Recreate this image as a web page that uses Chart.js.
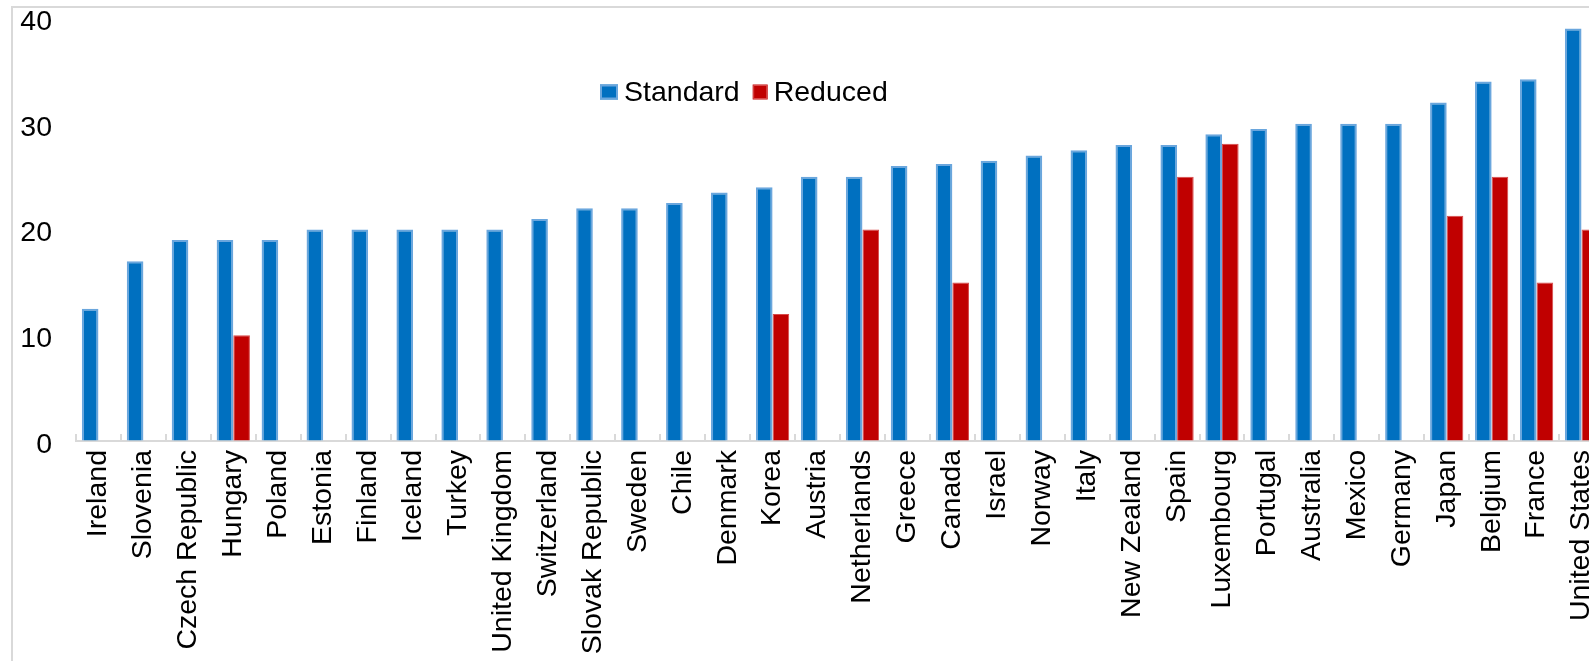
<!DOCTYPE html>
<html>
<head>
<meta charset="utf-8">
<script src="https://cdn.jsdelivr.net/npm/chart.js@4.4.1/dist/chart.umd.min.js"></script>
<style>
  html, body { margin:0; padding:0; overflow:hidden; background:#fff; width:1589px; height:661px; }
  #wrap { position:absolute; left:0; top:0; }
  #frame { position:absolute; left:11px; top:6px; width:2000px; height:1000px; border-left:2px solid #d9d9d9; border-top:2px solid #d9d9d9; pointer-events:none; z-index:2; }
</style>
</head>
<body>
<div id="wrap"><canvas id="taxChart" width="1630" height="680"></canvas></div>
<div id="frame"></div>
<script>
// corporate tax rates, standard vs reduced
const countries = ['Ireland','Slovenia','Czech Republic','Hungary','Poland','Estonia','Finland','Iceland','Turkey','United Kingdom','Switzerland','Slovak Republic','Sweden','Chile','Denmark','Korea','Austria','Netherlands','Greece','Canada','Israel','Norway','Italy','New Zealand','Spain','Luxembourg','Portugal','Australia','Mexico','Germany','Japan','Belgium','France','United States']
const standardRate = [12.5,17,19,19,19,20,20,20,20,20,21,22,22,22.5,23.5,24,25,25,26,26.2,26.5,27,27.5,28,28,29,29.5,30,30,30,32,34,34.2,39]
const reducedRate = [null,null,null,10,null,null,null,null,null,null,null,null,null,null,null,12,null,20,null,15,null,null,null,null,25,28.1,null,null,null,null,21.3,25,15,20]
const yTicks = [0,10,20,30,40]

const FONT = 'Liberation Sans, Arial, sans-serif'
const FSIZE = 28.5

// little tick marks sitting on top of the x axis between categories
const innerTicks = {
  id:'innerTicks',
  afterDraw(chart) {
    const x = chart.scales.x, ctx = chart.ctx
    const step = x.getPixelForValue(1) - x.getPixelForValue(0)
    const base = chart.chartArea.bottom
    ctx.save()
    ctx.strokeStyle = '#d9d9d9'; ctx.lineWidth = 2
    for (let i = 0; i <= countries.length; i++) {
      const px = Math.round(x.getPixelForValue(0) - step/2 + i*step)
      ctx.beginPath(); ctx.moveTo(px, base - 7); ctx.lineTo(px, base); ctx.stroke()
    }
    ctx.restore()
  }
}

// legend drawn inside the plot area
const innerLegend = {
  id:'innerLegend',
  afterDatasetsDraw(chart, args, opts) {
    const ctx = chart.ctx
    let x = opts.x
    const y = opts.y
    ctx.save()
    ctx.font = FSIZE + 'px ' + FONT
    ctx.textBaseline = 'middle'
    chart.data.datasets.forEach(ds => {
      const w = ds.legendBox
      ctx.fillStyle = ds.backgroundColor
      ctx.fillRect(x, y - 7.5, w, 15)
      if (ds.borderWidth) {
        ctx.strokeStyle = ds.borderColor; ctx.lineWidth = ds.borderWidth
        ctx.strokeRect(x + 1, y - 6.5, w - 2, 13)
      }
      x += w + 6
      ctx.fillStyle = '#000'
      ctx.fillText(ds.label, x, y + 1)
      x += ctx.measureText(ds.label).width + 13
    })
    ctx.restore()
  }
}

function initChart() {
  const el = document.getElementById('taxChart')
  if (!el) { console.error('canvas missing'); return }
  new Chart(el, {
    type:'bar',
    data:{
      labels: countries,
      datasets:[
        {label:'Standard', data: standardRate, backgroundColor:'#0070c0', borderColor:'#6aa6dd', borderWidth:2, borderSkipped:'bottom', legendBox:18},
        {label:'Reduced', data: reducedRate, backgroundColor:'#c00000', borderColor:'#d84a4a', borderWidth:1, borderSkipped:'bottom', legendBox:15}
      ]
    },
    options:{
      responsive:false,
      animation:false,
      layout:{padding:{top:18, right:26, bottom:0, left:0}},
      datasets:{bar:{categoryPercentage:0.74, barPercentage:1}},
      plugins:{
        legend:{display:false},
        tooltip:{enabled:false},
        innerLegend:{x:600, y:92}
      },
      scales:{
        x:{
          grid:{display:false},
          border:{display:true, color:'#d9d9d9', width:2},
          ticks:{font:{family:FONT, size:FSIZE}, color:'#000', minRotation:90, maxRotation:90, autoSkip:false, padding:1},
          afterFit(s) { s.height = 239 }
        },
        y:{
          min:0, max:40,
          // invisible tick marks give the gap between labels and plot
          grid:{display:true, drawOnChartArea:false, drawTicks:true, tickLength:24, color:'rgba(0,0,0,0)'},
          border:{display:false},
          afterBuildTicks(s) { s.ticks = yTicks.map(v => ({value:v})) },
          ticks:{font:{family:FONT, size:FSIZE}, color:'#000', padding:0, labelOffset:4},
          afterFit(s) { s.width = 76 }
        }
      }
    },
    plugins:[innerTicks, innerLegend]
  })
}

document.addEventListener('DOMContentLoaded', initChart)
</script>
</body>
</html>
